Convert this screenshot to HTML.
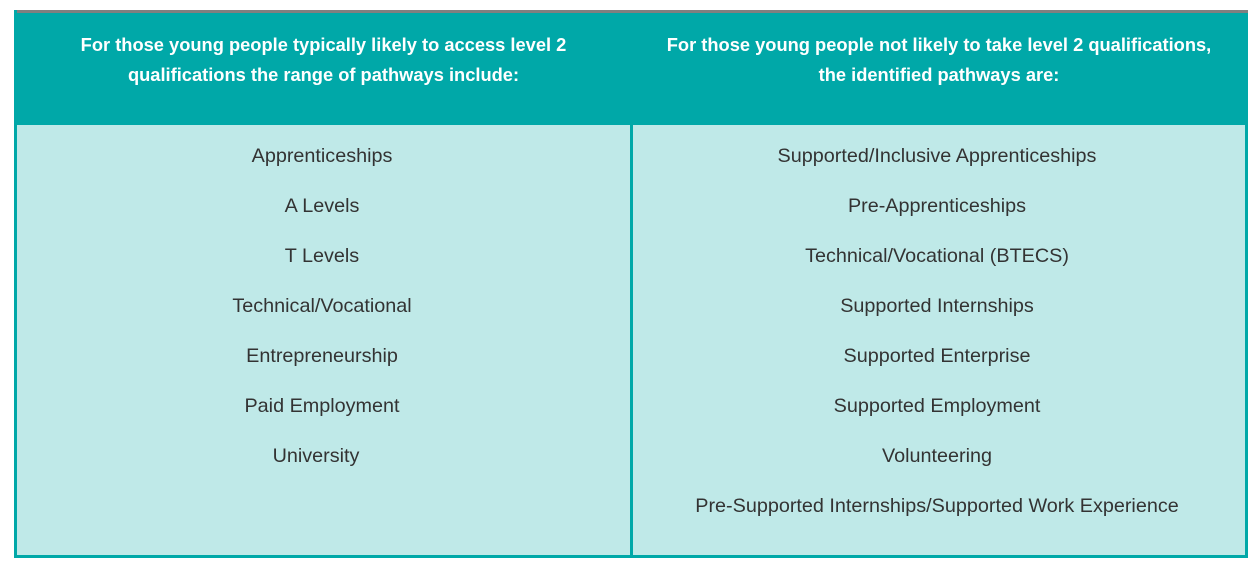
<!DOCTYPE html>
<html><head><style>
body{margin:0;background:#fff;width:1255px;height:569px;position:relative;font-family:"Liberation Sans",sans-serif;overflow:hidden}
.tbl{position:absolute;left:14px;top:10px;width:1234px;height:548px;background:#00a8a8}
.gray{position:absolute;left:17px;top:10px;width:1231px;height:3px;background:#808080}
.body{position:absolute;top:125px;height:430px;background:#bfe9e8}
.h{position:absolute;top:30px;color:#fff;font-weight:bold;font-size:18.3px;line-height:30px;text-align:center}
.col{position:absolute;top:141px;text-align:center;color:#333;font-size:19.8px}
.col div{height:50px;line-height:30px;white-space:nowrap}
</style></head><body>
<div class="tbl"></div>
<div class="gray"></div>
<div class="body" style="left:17px;width:613px"></div>
<div class="body" style="left:633px;width:612px"></div>
<div class="h" style="left:17px;width:613px">For those young people typically likely to access level 2<br>qualifications the range of pathways include:</div>
<div class="h" style="left:633px;width:612px">For those young people not likely to take level 2 qualifications,<br>the identified pathways are:</div>
<div class="col" style="left:17px;width:610px">
<div>Apprenticeships</div><div>A Levels</div><div>T Levels</div><div>Technical/Vocational</div><div>Entrepreneurship</div><div>Paid Employment</div><div style="margin-left:-12px">University</div>
</div>
<div class="col" style="left:633px;width:608px">
<div>Supported/Inclusive Apprenticeships</div><div>Pre-Apprenticeships</div><div>Technical/Vocational (BTECS)</div><div>Supported Internships</div><div>Supported Enterprise</div><div>Supported Employment</div><div>Volunteering</div><div>Pre-Supported Internships/Supported Work Experience</div>
</div>
</body></html>
